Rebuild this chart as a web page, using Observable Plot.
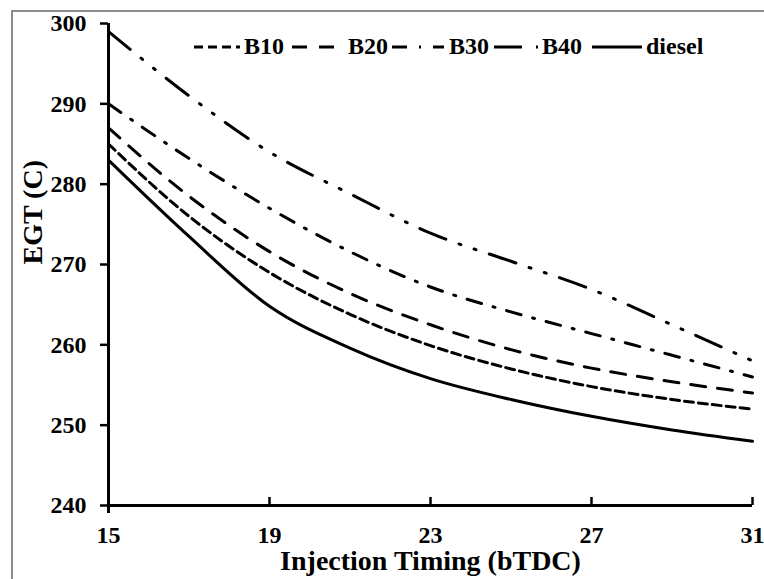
<!DOCTYPE html>
<html><head><meta charset="utf-8">
<script src="https://cdn.jsdelivr.net/npm/d3@7"></script>
<script src="https://cdn.jsdelivr.net/npm/@observablehq/plot@0.6"></script>
<style>
html,body{margin:0;padding:0;background:#fff;overflow:hidden;}
#wrap{position:relative;width:764px;height:579px;overflow:hidden;background:#fff;}
#border{position:absolute;left:11px;top:10px;width:800px;height:700px;border:2px solid #8c8c8c;box-sizing:border-box;}
#chart{position:absolute;left:0;top:0;}
#chart svg text{font-family:"Liberation Serif","Times New Roman",serif;font-weight:bold;}
#legend{position:absolute;left:0;top:0;width:764px;height:80px;font:bold 24px "Liberation Serif",serif;color:#000;}
#legend .lab{position:absolute;top:46px;transform:translateY(-50%);line-height:1;white-space:nowrap;}
#legend svg{position:absolute;display:block;}
</style></head>
<body>
<div id="wrap">
  <div id="border"></div>
  <div id="chart"></div>
  <div id="legend"></div>
</div>
<script>
const timing = [15, 17, 19, 21, 23, 25, 27, 29, 31];
const seriesNames = ["B10", "B20", "B30", "B40", "diesel"];
const b10    = [285, 276.0, 269.0, 263.8, 259.9, 257.0, 254.8, 253.2, 252];
const b20    = [287, 278.5, 271.6, 266.4, 262.5, 259.4, 257.1, 255.4, 254];
const b30    = [290, 283.2, 277.0, 271.6, 267.2, 264.1, 261.4, 258.7, 256];
const b40    = [299, 291.0, 284.0, 278.8, 273.9, 270.4, 266.9, 262.5, 258];
const diesel = [283, 273.5, 264.8, 259.6, 255.8, 253.2, 251.1, 249.4, 248];
const xTicks = [15, 19, 23, 27, 31];
const yTicks = [240, 250, 260, 270, 280, 290, 300];
const xLabel = "Injection Timing (bTDC)";
const yLabel = "EGT (C)";

const valuesBySeries = {B10: b10, B20: b20, B30: b30, B40: b40, diesel: diesel};
const dashStyle = {
  B10: "9,5",
  B20: "15,12",
  B30: "15,12,2,12",
  B40: "28,14,2,14,2,14",
  diesel: null
};

const rows = seriesNames.flatMap(s => valuesBySeries[s].map((v, i) => ({series: s, x: timing[i], y: v})));

const lineMarks = seriesNames.map(s => Plot.line(rows.filter(d => d.series === s), {
  x: "x", y: "y", stroke: "black", strokeWidth: 3,
  strokeDasharray: dashStyle[s] || undefined, curve: "monotone-x"
}));

const chart = Plot.plot({
  width: 764, height: 579,
  marginLeft: 108, marginRight: 12, marginTop: 23, marginBottom: 74,
  style: {background: "transparent", color: "#000", fontSize: "24px"},
  x: {type: "linear", domain: [15, 31]},
  y: {type: "linear", domain: [240, 300]},
  marks: [
    Plot.axisY({ticks: yTicks, tickSize: 8, tickPadding: 14, tickFormat: d => String(d), label: null, strokeWidth: 2.5, fontSize: 24}),
    Plot.axisX({ticks: xTicks, tickSize: 0, tickPadding: 20, tickFormat: d => String(d), label: null, fontSize: 24}),
    Plot.ruleX(xTicks, {x: d => d, y1: 240, y2: 241, stroke: "black", strokeWidth: 2.5}),
    Plot.ruleY([240], {stroke: "black", strokeWidth: 3}),
    Plot.ruleX([15], {stroke: "black", strokeWidth: 3, insetBottom: -8}),
    ...lineMarks,
    Plot.text([xLabel], {frameAnchor: "bottom", lineAnchor: "middle", dy: 56, fontSize: 28, fontWeight: "bold", fill: "black"}),
    Plot.text([yLabel], {frameAnchor: "left", lineAnchor: "middle", dx: -75, rotate: -90, fontSize: 28, fontWeight: "bold", fill: "black"})
  ]
});
document.getElementById("chart").appendChild(chart);

// legend (inside the plot, top right)
const legendLayout = {
  B10:    {sx: 194, sw: 46, lx: 244},
  B20:    {sx: 292, sw: 42, lx: 348},
  B30:    {sx: 392, sw: 52, lx: 449},
  B40:    {sx: 494, sw: 44, lx: 542},
  diesel: {sx: 592, sw: 50, lx: 646}
};
const legend = document.getElementById("legend");
const ns = "http://www.w3.org/2000/svg";
seriesNames.forEach(s => {
  const L = legendLayout[s];
  const sv = document.createElementNS(ns, "svg");
  sv.setAttribute("width", L.sw); sv.setAttribute("height", 10);
  sv.style.left = L.sx + "px"; sv.style.top = "42px";
  const ln = document.createElementNS(ns, "line");
  ln.setAttribute("x1", 0); ln.setAttribute("x2", L.sw);
  ln.setAttribute("y1", 5); ln.setAttribute("y2", 5);
  ln.setAttribute("stroke", "black"); ln.setAttribute("stroke-width", 3);
  if (dashStyle[s]) ln.setAttribute("stroke-dasharray", dashStyle[s]);
  sv.appendChild(ln);
  legend.appendChild(sv);
  const t = document.createElement("div");
  t.className = "lab";
  t.style.left = L.lx + "px";
  t.textContent = s;
  legend.appendChild(t);
});
</script>
</body></html>
